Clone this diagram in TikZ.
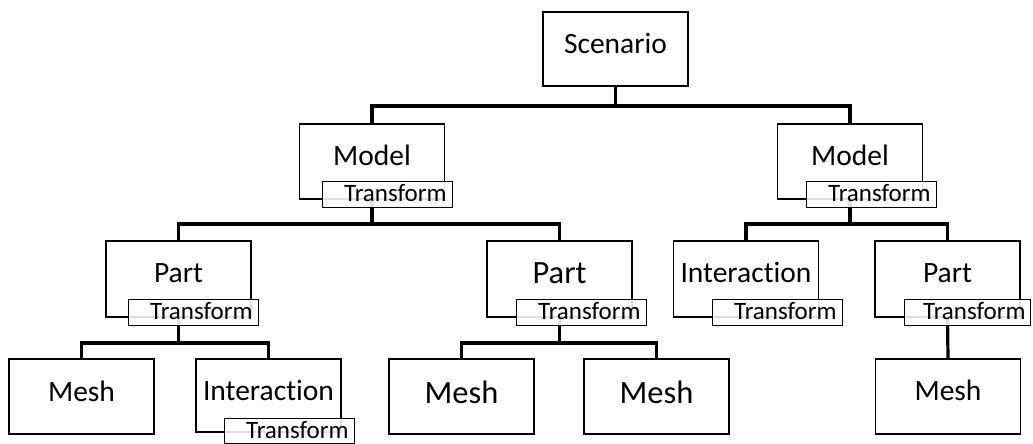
\documentclass[tikz,border=0pt]{standalone}
\usepackage{fontspec}
\setmainfont{Carlito}[Ligatures={NoCommon}]
\begin{document}
\begin{tikzpicture}[x=1pt,y=-1pt,
  box/.style={draw=black, line width=1.2pt, fill=white, minimum width=145pt, inner sep=0pt,
     text height=41pt, text depth=34pt, font=\fontsize{29.5}{31}\selectfont},
  bigbox/.style={box, font=\fontsize{32.5}{34}\selectfont},
  trbox/.style={draw=black, line width=1.2pt, fill=white, fill opacity=0.88, text opacity=1,
     anchor=north west, text width=118pt, align=right, inner xsep=6pt, inner ysep=0pt,
     text height=20pt, text depth=6pt, font=\fontsize{25}{27}\selectfont},
  conn/.style={draw=black, line width=3.2pt}]
\useasboundingbox (0,0) rectangle (1033,444);
% main boxes
\node[box, text height=42pt, text depth=32pt] (sc) at (615.5,49) {Scenario};
\node[box] (ml) at (372,161.5) {Model};
\node[box] (mr) at (850,161.5) {Model};
\node[box, text height=41pt, text depth=35pt] (pl) at (178.5,279) {Part};
\node[bigbox, text height=42pt, text depth=34pt] (pm) at (559.5,279) {Part};
\node[box, text height=41pt, text depth=35pt] (ir) at (746,279) {Interaction};
\node[box, text height=41pt, text depth=35pt] (pr) at (947.5,279) {Part};
\node[box, text height=42pt, text depth=33pt] (mshl) at (81.5,396.5) {Mesh};
\node[box, text height=41pt, text depth=32pt] (ib) at (268.5,395.5) {Interaction};
\node[bigbox, text height=44pt, text depth=31pt] (mm1) at (461.5,396.5) {Mesh};
\node[bigbox, text height=44pt, text depth=31pt] (mm2) at (656.5,396.5) {Mesh};
\node[box, text height=41pt, text depth=34pt] (mshr) at (948,396.5) {Mesh};
% bus coordinates
\coordinate (b1) at (0,106);
\coordinate (b2) at (0,224);
\coordinate (b3) at (0,343);
% connectors
\draw[conn] (sc.south) -- (sc.south |- b1) -| (ml.north);
\draw[conn] (sc.south |- b1) -| (mr.north);
\draw[conn] (ml.south) -- (ml.south |- b2) -| (pl.north);
\draw[conn] (ml.south |- b2) -| (pm.north);
\draw[conn] (mr.south) -- (mr.south |- b2) -| (ir.north);
\draw[conn] (mr.south |- b2) -| (pr.north);
\draw[conn] (pl.south) -- (pl.south |- b3) -| (mshl.north);
\draw[conn] (pl.south |- b3) -| (ib.north);
\draw[conn] (pm.south) -- (pm.south |- b3) -| (mm1.north);
\draw[conn] (pm.south |- b3) -| (mm2.north);
\draw[conn] (pr.south) -- (mshr.north);
% transform boxes
\node[trbox] (tml) at (322,181) {Transform};
\node[trbox] (tmr) at (806,181) {Transform};
\node[trbox] (tpl) at (128,299) {Transform};
\node[trbox] (tpm) at (516,299) {Transform};
\node[trbox] (tir) at (712,299) {Transform};
\node[trbox, text width=116pt, inner xsep=5pt] (tpr) at (904,299) {Transform};
\node[trbox, text depth=5pt] (tib) at (224,418) {Transform};
\end{tikzpicture}
\end{document}
